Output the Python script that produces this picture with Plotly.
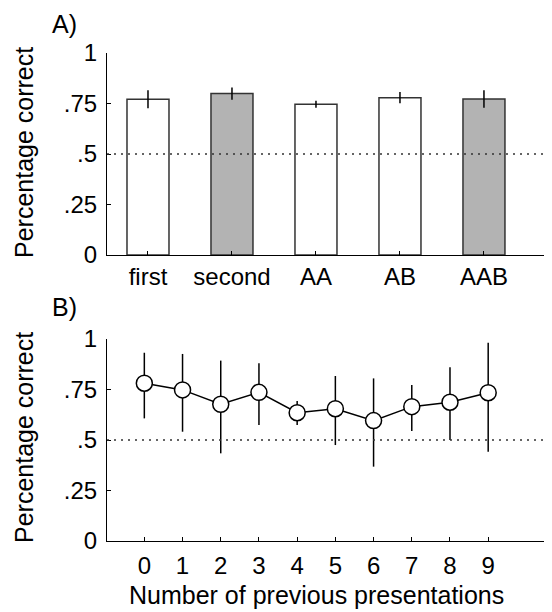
import plotly.graph_objects as go

# Panel A data
cond_labels = ["first", "second", "AA", "AB", "AAB"]
cond_pos = [1, 2, 3, 4, 5]
cond_values = [0.771, 0.799, 0.746, 0.779, 0.772]
cond_err = [0.045, 0.030, 0.017, 0.028, 0.043]
cond_colors = ["white", "#b3b3b3", "white", "white", "#b3b3b3"]

# Panel B data
n_prev = [0, 1, 2, 3, 4, 5, 6, 7, 8, 9]
prev_values = [0.781, 0.748, 0.677, 0.736, 0.635, 0.655, 0.596, 0.665, 0.687, 0.734]
prev_err_plus = [0.151, 0.178, 0.216, 0.144, 0.058, 0.162, 0.209, 0.107, 0.173, 0.248]
prev_err_minus = [0.174, 0.207, 0.243, 0.162, 0.061, 0.180, 0.228, 0.120, 0.187, 0.292]

y_ticks = [0, 0.25, 0.5, 0.75, 1]
y_ticklabels = ["0", ".25", ".5", ".75", "1"]
chance = 0.5

OFF = 8  # default page body margin
W, H = 552 - OFF, 612 - OFF
ML = 107 - OFF
PW = W - ML
FONT = "Liberation Sans, Arial, sans-serif"


def py(y):
    return 1 - (y - OFF) / H


def px(x):
    return (x - OFF - ML) / PW


fig = go.Figure()

fig.add_trace(go.Bar(
    x=cond_pos, y=cond_values, width=0.5,
    marker=dict(color=cond_colors, line=dict(color="#333333", width=1.5)),
    error_y=dict(type="data", array=cond_err, visible=True, color="black",
                 thickness=1.5, width=0),
    xaxis="x", yaxis="y", showlegend=False,
))

fig.add_trace(go.Scatter(
    x=n_prev, y=prev_values, mode="lines+markers",
    line=dict(color="black", width=1.5),
    marker=dict(symbol="circle", size=16, color="white",
                line=dict(color="black", width=1.5)),
    error_y=dict(type="data", array=prev_err_plus, arrayminus=prev_err_minus,
                 symmetric=False, visible=True, color="black", thickness=1.5, width=0),
    xaxis="x2", yaxis="y2", showlegend=False,
))

axis_common = dict(
    showgrid=False, zeroline=False, showline=True, linecolor="black", linewidth=1.2,
    ticks="inside", ticklen=4, tickwidth=1, tickcolor="black", automargin=False,
    tickfont=dict(size=24, color="black", family=FONT),
)

fig.update_layout(
    width=W, height=H,
    margin=dict(l=ML, r=0, t=0, b=0, autoexpand=False),
    paper_bgcolor="white", plot_bgcolor="white",
    font=dict(family=FONT, color="black"),
    xaxis=dict(axis_common, domain=[0, 1], range=[0.512, 5.81],
               tickvals=cond_pos, ticktext=cond_labels, anchor="y",
               ticklabelstandoff=0),
    yaxis=dict(axis_common, domain=[py(255), py(53)], range=[0, 1],
               tickvals=y_ticks, ticktext=y_ticklabels, anchor="x",
               ticklabelstandoff=4),
    xaxis2=dict(axis_common, domain=[0, 1], range=[-0.977, 10.67],
                tickvals=n_prev, anchor="y2", ticklabelstandoff=3),
    yaxis2=dict(axis_common, domain=[py(541), py(339)], range=[0, 1],
                tickvals=y_ticks, ticktext=y_ticklabels, anchor="x2",
                ticklabelstandoff=4),
)

# chance lines
for xr, yr in (("x domain", "y"), ("x2 domain", "y2")):
    fig.add_shape(type="line", xref=xr, yref=yr, x0=0, x1=1, y0=chance, y1=chance,
                  line=dict(color="#333333", width=1.5, dash="2px,5px"), layer="above")

ann = [
    dict(text="A)", x=px(50), y=py(24), xanchor="left", yanchor="middle",
         font=dict(size=25)),
    dict(text="B)", x=px(50), y=py(307), xanchor="left", yanchor="middle",
         font=dict(size=25)),
    dict(text="Percentage correct", x=px(24), y=py(153), textangle=-90,
         xanchor="center", yanchor="middle", font=dict(size=25)),
    dict(text="Percentage correct", x=px(24), y=py(438), textangle=-90,
         xanchor="center", yanchor="middle", font=dict(size=25)),
    dict(text="Number of previous presentations", x=px(316), y=py(595),
         xanchor="center", yanchor="middle", font=dict(size=25)),
]
for a in ann:
    a.update(xref="paper", yref="paper", showarrow=False)
    a["font"].update(family=FONT, color="black")
    fig.add_annotation(**a)

fig.write_html("out.html")
